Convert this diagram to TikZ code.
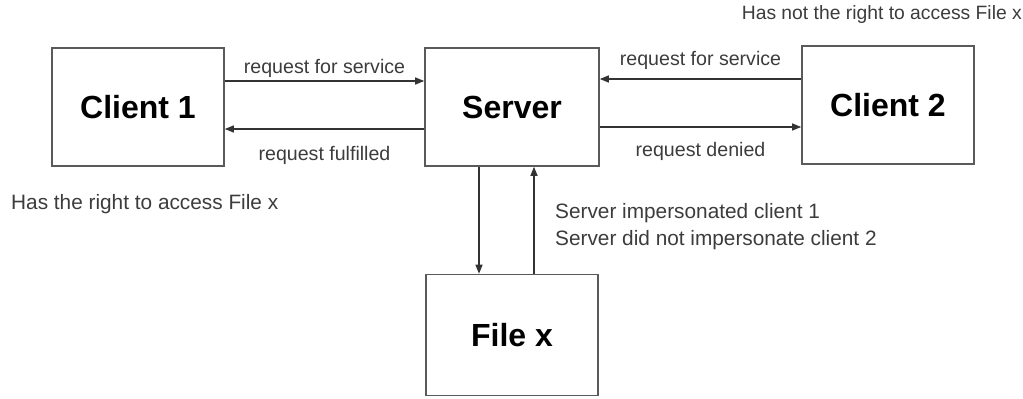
\documentclass[tikz,border=0pt]{standalone}
\usepackage{fontspec}
\setmainfont{Liberation Sans}
\usetikzlibrary{arrows.meta}
\usetikzlibrary{positioning}
\definecolor{edge}{HTML}{5A5A5A}
\definecolor{txt}{HTML}{3C3C3C}
\begin{document}
\begin{tikzpicture}[x=1pt, y=-1pt]
\tikzstyle{box}=[draw=edge, line width=1.6pt, fill=white, minimum width=172pt,
                 minimum height=118pt, inner sep=0pt, font=\fontsize{32}{38}\selectfont\bfseries] ;
\tikzstyle{la}=[font=\fontsize{19.6}{23}\selectfont, text=txt, inner sep=1pt];
\tikzstyle{note}=[la, font=\fontsize{20.8}{27}\selectfont];
\tikzstyle{link}=[draw=black!80, line width=1.3pt, -{Triangle[length=9pt,width=7pt]}];
\useasboundingbox (0,0) rectangle (1023,399);
\node[box] (c1) at (138,107) {Client 1};
\node[box, minimum width=174pt] (srv) at (512,107) {Server};
\node[box] (c2) at (888,105) {Client 2};
\node[box, minimum height=121pt] (file) at (512,335) {File x};
\draw[link] ([yshift=26pt]c1.east) -- ([yshift=26pt]c1.east -| srv.west) node[la, midway, above=2pt] {request for service};
\draw[link] ([yshift=-22pt]srv.west) -- ([yshift=-22pt]srv.west -| c1.east) node[la, midway, below=16pt] {request fulfilled};
\draw[link] ([yshift=28pt]c2.west |- srv.center) -- ([yshift=28pt]srv.east) node[la, midway, above=8pt] {request for service};
\draw[link] ([yshift=-20pt]srv.east) -- ([yshift=-20pt]srv.east -| c2.west) node[la, midway, below=14pt] {request denied};
\draw[link] ([xshift=-33pt]srv.south) -- ([xshift=-33pt]srv.south |- file.north);
\draw[link] ([xshift=22pt]srv.south |- file.north) -- ([xshift=22pt]srv.south);
\node[note, anchor=west] (has) at (10,204) {Has the right to access File x};
\node[la, anchor=east, font=\fontsize{19.3}{23}\selectfont] (hasnot) at (1023,15) {Has not the right to access File x};
\node[note, anchor=north west, align=left] (imp) at (554,202) {Server impersonated client 1\\Server did not impersonate client 2};
\end{tikzpicture}
\end{document}
